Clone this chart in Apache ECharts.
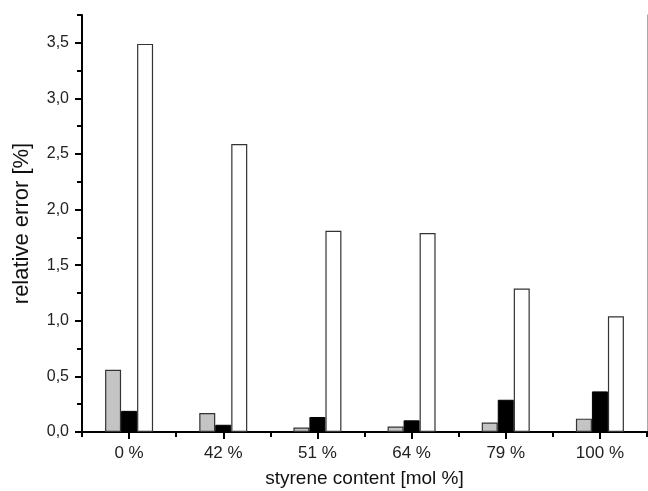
<!DOCTYPE html>
<html>
<head>
<meta charset="utf-8">
<script src="https://cdn.jsdelivr.net/npm/echarts@6/dist/echarts.min.js"></script>
<style>html,body{margin:0;padding:0;background:#fff;}#c{width:648px;height:491px;}</style>
</head>
<body>
<div id="c"></div>
<script>
const categories = ['0 %', '42 %', '51 %', '64 %', '79 %', '100 %'];
const grayValues = [0.56, 0.17, 0.04, 0.05, 0.085, 0.12];
const blackValues = [0.19, 0.065, 0.135, 0.105, 0.29, 0.365];
const whiteValues = [3.49, 2.59, 1.81, 1.79, 1.29, 1.04];
const yMajorTicks = [0, 0.5, 1.0, 1.5, 2.0, 2.5, 3.0, 3.5];
const yMax = 3.75;

const FONT = '"Liberation Sans", Arial, sans-serif';
const chart = echarts.init(document.getElementById('c'), null, {renderer: 'canvas'});
const fmt = v => Number(v).toFixed(1).replace('.', ',');

chart.setOption({
  animation: false,
  backgroundColor: '#fff',
  grid: {left: 82, right: 1, top: 15, bottom: 59, containLabel: false, outerBoundsMode: 'none'},
  xAxis: [
    {
      type: 'category', data: categories, position: 'bottom',
      axisLine: {show: true, lineStyle: {color: '#000', width: 2}},
      axisTick: {show: true, alignWithLabel: true, length: 7, inside: false, lineStyle: {color: '#000', width: 2}},
      axisLabel: {fontSize: 17, color: '#222', fontFamily: FONT, margin: 13},
      name: 'styrene content [mol %]', nameLocation: 'middle', nameGap: 37,
      nameTextStyle: {fontSize: 19, color: '#111', fontFamily: FONT},
      splitLine: {show: false}
    },
    {
      type: 'category', data: categories, position: 'bottom',
      axisLine: {show: false},
      axisTick: {show: true, alignWithLabel: false, length: 5, lineStyle: {color: '#000', width: 2}},
      axisLabel: {show: false},
      splitLine: {show: false}
    },
    {
      type: 'category', data: categories, position: 'top',
      axisLine: {show: true, lineStyle: {color: '#000', width: 2}},
      axisTick: {show: false}, axisLabel: {show: false}, splitLine: {show: false}
    }
  ],
  yAxis: [
    {
      type: 'value', min: 0, max: yMax, position: 'left',
      axisLine: {show: true, lineStyle: {color: '#000', width: 2}},
      axisTick: {show: true, customValues: yMajorTicks, length: 7, lineStyle: {color: '#000', width: 2}},
      axisLabel: {customValues: yMajorTicks, formatter: fmt, fontSize: 16, color: '#222', fontFamily: FONT, margin: 13},
      name: 'relative error [%]', nameLocation: 'middle', nameGap: 49,
      nameTextStyle: {fontSize: 22, color: '#111', fontFamily: FONT},
      splitLine: {show: false}
    },
    {
      type: 'value', min: 0, max: yMax, interval: 0.25, position: 'left',
      axisLine: {show: false},
      axisTick: {show: true, length: 5, lineStyle: {color: '#000', width: 2}},
      axisLabel: {show: false}, splitLine: {show: false}
    },
    {
      type: 'value', min: 0, max: yMax, position: 'right',
      axisLine: {show: true, lineStyle: {color: '#aaa', width: 1}},
      axisTick: {show: false}, axisLabel: {show: false}, splitLine: {show: false}
    }
  ],
  series: [
    {type: 'bar', data: grayValues, barWidth: 16, barGap: '0%', xAxisIndex: 0, yAxisIndex: 0,
     itemStyle: {color: '#c4c4c4', borderColor: '#333', borderWidth: 1.2}},
    {type: 'bar', data: blackValues, barWidth: 16, barGap: '0%', xAxisIndex: 0, yAxisIndex: 0,
     itemStyle: {color: '#000', borderColor: '#000', borderWidth: 1}},
    {type: 'bar', data: whiteValues, barWidth: 16, barGap: '0%', xAxisIndex: 0, yAxisIndex: 0,
     itemStyle: {color: '#fff', borderColor: '#333', borderWidth: 1.2}}
  ]
});
</script>
</body>
</html>
